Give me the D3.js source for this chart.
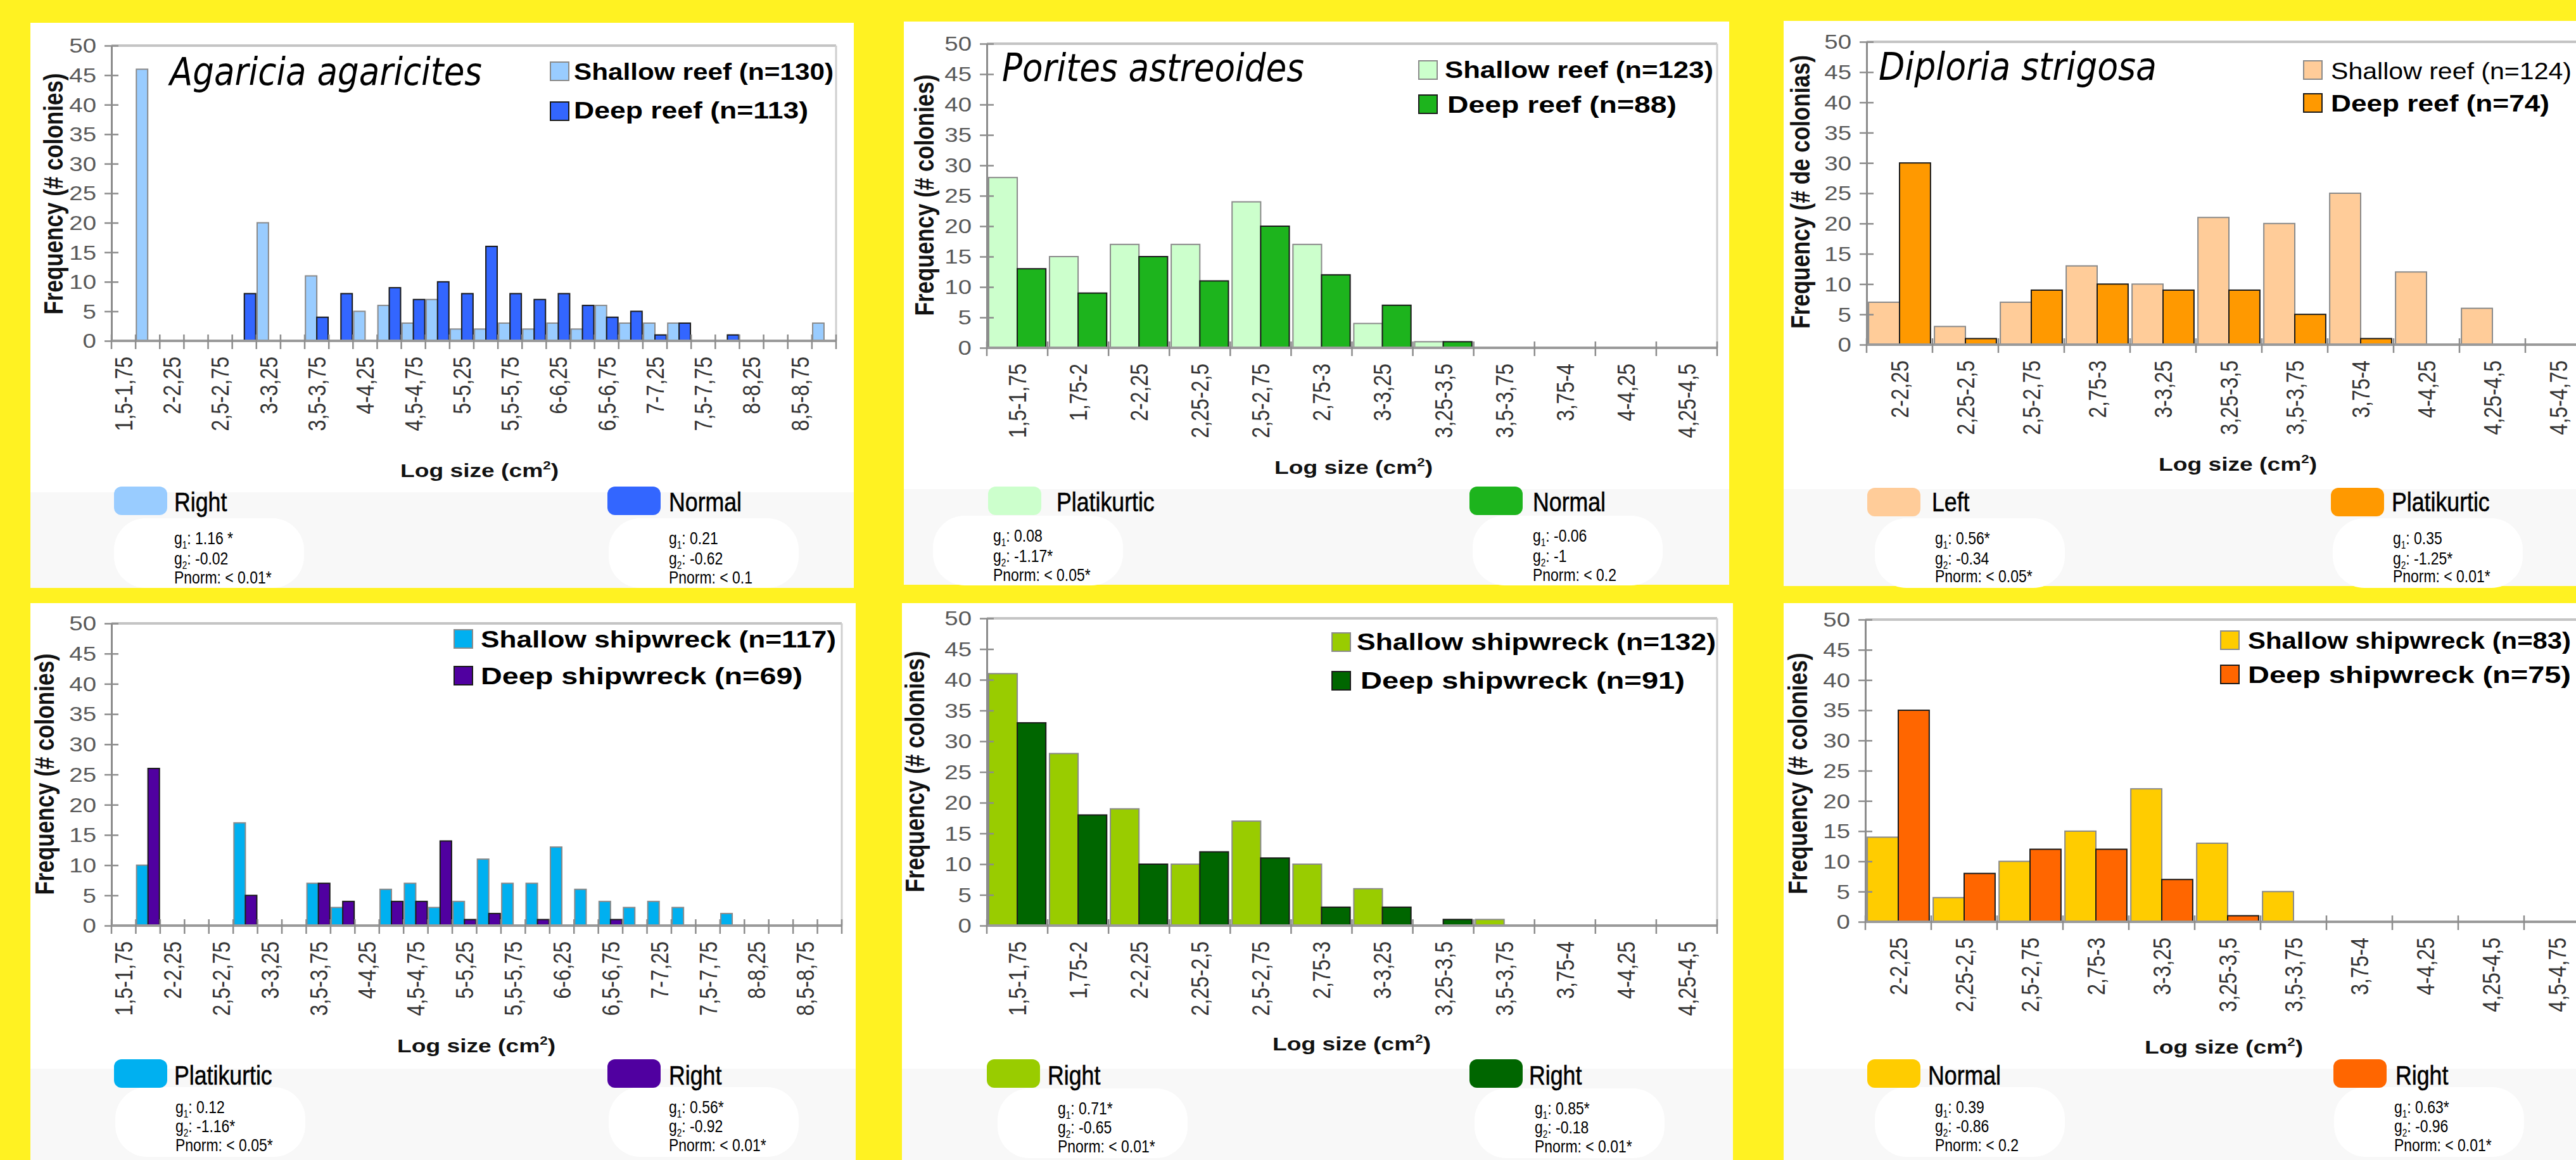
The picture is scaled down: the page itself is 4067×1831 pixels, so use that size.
<!DOCTYPE html>
<html><head><meta charset="utf-8">
<script src="https://cdn.jsdelivr.net/npm/d3@7"></script>
<style>html,body{margin:0;padding:0;background:#FFF222;overflow:hidden}</style>
</head><body><svg id="c" width="4067" height="1831"></svg>
<script>
// ---------- DATA ----------
const catsWide = ["1,5-1,75","1,75-2","2-2,25","2,25-2,5","2,5-2,75","2,75-3","3-3,25","3,25-3,5","3,5-3,75","3,75-4","4-4,25","4,25-4,5","4,5-4,75","4,75-5","5-5,25","5,25-5,5","5,5-5,75","5,75-6","6-6,25","6,25-6,5","6,5-6,75","6,75-7","7-7,25","7,25-7,5","7,5-7,75","7,75-8","8-8,25","8,25-8,5","8,5-8,75","8,75-9"];
const catsMid = ["1,5-1,75","1,75-2","2-2,25","2,25-2,5","2,5-2,75","2,75-3","3-3,25","3,25-3,5","3,5-3,75","3,75-4","4-4,25","4,25-4,5"];
const catsDip = ["2-2,25","2,25-2,5","2,5-2,75","2,75-3","3-3,25","3,25-3,5","3,5-3,75","3,75-4","4-4,25","4,25-4,5","4,5-4,75"];
const yTicks = [0,5,10,15,20,25,30,35,40,45,50];

const agariciaReefShallow = [0,46,0,0,0,0,20,0,11,0,5,6,3,7,2,2,3,2,3,2,6,3,3,3,0,0,0,0,0,3];
const agariciaReefDeep    = [0,0,0,0,0,8,0,0,4,8,0,9,7,10,8,16,8,7,8,6,4,5,1,3,0,1,0,0,0,0];
const poritesReefShallow  = [28,15,17,17,24,17,4,1,0,0,0,0];
const poritesReefDeep     = [13,9,15,11,20,12,7,1,0,0,0,0];
const diploriaReefShallow = [7,3,7,13,10,21,20,25,12,6,0];
const diploriaReefDeep    = [30,1,9,10,9,9,5,1,0,0,0];
const agariciaWreckShallow = [0,10,0,0,0,17,0,0,7,3,0,6,7,3,4,11,7,7,13,6,4,3,4,3,0,2,0,0,0,0];
const agariciaWreckDeep    = [0,26,0,0,0,5,0,0,7,4,0,4,4,14,1,2,0,1,0,0,1,0,0,0,0,0,0,0,0,0];
const poritesWreckShallow  = [41,28,19,10,17,10,6,0,1,0,0,0];
const poritesWreckDeep     = [33,18,10,12,11,3,3,1,0,0,0,0];
const diploriaWreckShallow = [14,4,10,15,22,13,5,0,0,0,0];
const diploriaWreckDeep    = [35,8,12,12,7,1,0,0,0,0,0];

const seriesNames = [
  ["Shallow reef (n=130)","Deep reef (n=113)"],
  ["Shallow reef (n=123)","Deep reef (n=88)"],
  ["Shallow  reef (n=124)","Deep reef (n=74)"],
  ["Shallow shipwreck (n=117)","Deep shipwreck (n=69)"],
  ["Shallow shipwreck (n=132)","Deep shipwreck (n=91)"],
  ["Shallow shipwreck (n=83)","Deep shipwreck (n=75)"]
];
const distShape = [["Right","Normal"],["Platikurtic","Normal"],["Left","Platikurtic"],["Platikurtic","Right"],["Right","Right"],["Normal","Right"]];
const distStats = [
  [["g1: 1.16 *","g2: -0.02","Pnorm: < 0.01*"],["g1: 0.21","g2: -0.62","Pnorm: < 0.1"]],
  [["g1: 0.08","g2: -1.17*","Pnorm: < 0.05*"],["g1: -0.06","g2: -1","Pnorm: < 0.2"]],
  [["g1: 0.56*","g2: -0.34","Pnorm: < 0.05*"],["g1: 0.35","g2: -1.25*","Pnorm: < 0.01*"]],
  [["g1: 0.12","g2: -1.16*","Pnorm: < 0.05*"],["g1: 0.56*","g2: -0.92","Pnorm: < 0.01*"]],
  [["g1: 0.71*","g2: -0.65","Pnorm: < 0.01*"],["g1: 0.85*","g2: -0.18","Pnorm: < 0.01*"]],
  [["g1: 0.39","g2: -0.86","Pnorm: < 0.2"],["g1: 0.63*","g2: -0.96","Pnorm: < 0.01*"]]
];
const speciesTitles = ["Agaricia agaricites","Porites astreoides","Diploria strigosa",null,null,null];

// ---------- LAYOUT ----------
const SX = 1.24;   // horizontal stretch of the chart texts
const NX = 0.85;   // narrow face for the added legend texts
const F = "'Liberation Sans', Arial, sans-serif";
const svg = d3.select("#c");

const panels = [
 {box:[48,36,1348,928], x0:176, catW:(1320-176)/30, y0:538, y50:72, cats:catsWide, every:2, open:false,
  sh:agariciaReefShallow, dp:agariciaReefDeep, cs:"#99CCFF", cd:"#3366FF",
  title:[268,134,493], yt:[84,306,"Frequency (# colonies)"], xt:[757,742], band:777,
  leg:[[869,98,906,113,410,true],[869,161,906,174,370,true]],
  bl:[[180,768,275,792,275,[850,882,912]],[959,768,1056,792,1056,[850,882,912]]]},
 {box:[1427,34,2730,923], x0:1558, catW:(2711-1558)/12, y0:549, y50:69, cats:catsMid, every:1, open:false,
  sh:poritesReefShallow, dp:poritesReefDeep, cs:"#CCFFCC", cd:"#1DB41D",
  title:[1582,128,477], yt:[1459,308,"Frequency (# colonies)"], xt:[2137,737], band:772,
  leg:[[2240,96,2281,110,424,true],[2240,150,2285,165,362,true]],
  bl:[[1560,768,1668,792,1568,[846,878,908]],[2320,768,2420,792,2420,[846,878,908]]]},
 {box:[2816,33,4067,925], x0:2947, catW:104, y0:544, y50:66, cats:catsDip, every:1, open:true,
  sh:diploriaReefShallow, dp:diploriaReefDeep, cs:"#FFCC99", cd:"#FF9900",
  title:[2966,126,439], yt:[2842,303,"Frequency (# de colonias)"], xt:[3533,732], band:772,
  leg:[[3637,96,3680,112,380,false],[3637,148,3680,163,345,true]],
  bl:[[2948,770,3050,792,3055,[850,882,910]],[3680,770,3776,792,3778,[850,882,910]]]},
 {box:[48,952,1351,1831], x0:176, catW:(1329-176)/30, y0:1461, y50:984, cats:catsWide, every:2, open:false,
  sh:agariciaWreckShallow, dp:agariciaWreckDeep, cs:"#00B0F0", cd:"#5000A0",
  title:null, yt:[70,1222,"Frequency (# colonies)"], xt:[752,1650], band:1687,
  leg:[[717,994,759,1009,561,true],[717,1052,759,1067,508,true]],
  bl:[[180,1672,275,1697,277,[1748,1778,1808]],[959,1672,1056,1697,1056,[1748,1778,1808]]]},
 {box:[1424,952,2736,1831], x0:1558, catW:(2711-1558)/12, y0:1461, y50:976, cats:catsMid, every:1, open:false,
  sh:poritesWreckShallow, dp:poritesWreckDeep, cs:"#99CC00", cd:"#006600",
  title:null, yt:[1444,1218,"Frequency (# colonies)"], xt:[2134,1647], band:1687,
  leg:[[2103,999,2142,1013,567,true],[2103,1060,2148,1074,512,true]],
  bl:[[1558,1672,1654,1697,1670,[1750,1780,1810]],[2320,1672,2414,1697,2423,[1750,1780,1810]]]},
 {box:[2816,952,4067,1831], x0:2945, catW:104, y0:1455, y50:978, cats:catsDip, every:1, open:true,
  sh:diploriaWreckShallow, dp:diploriaWreckDeep, cs:"#FFCC00", cd:"#FF6600",
  title:null, yt:[2838,1221,"Frequency (# colonies)"], xt:[3511,1652], band:1687,
  leg:[[3506,996,3549,1011,510,true],[3506,1050,3549,1065,510,true]],
  bl:[[2948,1672,3044,1697,3055,[1748,1778,1808]],[3684,1672,3782,1697,3780,[1748,1778,1808]]]}
];

function statLine(g, x, y, s) {
  const t = g.append("text").attr("transform", `translate(${x},${y}) scale(${NX},1)`).attr("dy","0.35em")
    .attr("font-family", F).attr("font-size", 27).attr("fill", "#000");
  const m = s.match(/^g([12])(.*)$/);
  if (m) {
    t.append("tspan").text("g");
    t.append("tspan").attr("font-size", 16).attr("dy", 7).text(m[1]);
    t.append("tspan").attr("dy", -7).text(m[2]);
  } else t.text(s);
}

panels.forEach((p, pi) => {
  const g = svg.append("g");
  const [bx0, by0, bx1, by1] = p.box;
  g.append("rect").attr("x", bx0).attr("y", by0).attr("width", bx1 - bx0).attr("height", by1 - by0).attr("fill", "#fff");
  g.append("rect").attr("x", bx0).attr("y", p.band).attr("width", bx1 - bx0).attr("height", by1 - p.band).attr("fill", "#f8f8f8");

  const n = p.cats.length;
  const x = d3.scaleBand().domain(p.cats).range([p.x0, p.x0 + p.catW * n]).paddingInner(0.06).paddingOuter(0.03);
  const sub = d3.scaleBand().domain(["s","d"]).range([0, x.bandwidth()]);
  const y = d3.scaleLinear().domain([0, 50]).range([p.y0, p.y50]);
  // open panels continue past the picture edge
  const xEnd = p.open ? 4067 : x.range()[1];

  // plot-area border (top, right)
  g.append("line").attr("x1", p.x0).attr("x2", xEnd).attr("y1", y(50)).attr("y2", y(50)).attr("stroke", "#c4c4c4").attr("stroke-width", 4);
  if (!p.open) g.append("line").attr("x1", xEnd).attr("x2", xEnd).attr("y1", y(50)).attr("y2", y(0)).attr("stroke", "#cfcfcf").attr("stroke-width", 3);

  // bars
  const rows = p.cats.map((c, i) => ({c, s: p.sh[i], d: p.dp[i]}));
  ["s","d"].forEach(k => {
    g.selectAll(null).data(rows.filter(r => r[k] > 0)).join("rect")
      .attr("x", r => x(r.c) + sub(k)).attr("width", sub.bandwidth())
      .attr("y", r => y(r[k])).attr("height", r => y(0) - y(r[k]))
      .attr("fill", k === "s" ? p.cs : p.cd)
      .attr("stroke", k === "s" ? "#8a8a8a" : "#1a1a1a").attr("stroke-width", 2);
  });

  // y axis
  const ya = g.append("g").attr("transform", `translate(${p.x0},0)`)
    .call(d3.axisLeft(y).tickValues(yTicks).tickSizeInner(11).tickSizeOuter(0));
  ya.select(".domain").attr("stroke", "#8c8c8c").attr("stroke-width", 3);
  ya.selectAll(".tick line").attr("x1", 11).attr("x2", -11).attr("stroke", "#8c8c8c").attr("stroke-width", 2.5);
  ya.selectAll(".tick text").attr("x", 0).attr("dy", "0.35em").attr("text-anchor", "end")
    .attr("transform", `translate(-24,0) scale(${SX},1)`)
    .attr("font-family", F).attr("font-size", 31).attr("fill", "#595959");

  // x axis
  const xa = g.append("g").attr("transform", `translate(0,${y(0)})`)
    .call(d3.axisBottom(x).tickSize(0).tickFormat((d, i) => (i % p.every === 0) ? d : ""));
  xa.select(".domain").remove();
  xa.selectAll(".tick text").attr("x", 0).attr("y", 0).attr("dy", "0.35em").attr("text-anchor", "end")
    .attr("transform", `translate(0,25) scale(${SX},1) rotate(-90)`)
    .attr("font-family", F).attr("font-size", 32).attr("fill", "#333");
  g.append("line").attr("x1", p.x0).attr("x2", xEnd).attr("y1", y(0)).attr("y2", y(0)).attr("stroke", "#9a9a9a").attr("stroke-width", 4);
  g.selectAll(null).data(d3.range(n + 1).map(i => x.range()[0] + i * x.step())).join("line")
    .attr("x1", d => d).attr("x2", d => d).attr("y1", y(0) - 10).attr("y2", y(0) + 13)
    .attr("stroke", "#8c8c8c").attr("stroke-width", 2.5);

  // axis titles
  g.append("text").attr("transform", `translate(${p.yt[0]},${p.yt[1]}) scale(${SX},1) rotate(-90)`)
    .attr("text-anchor", "middle").attr("dy", "0.35em").attr("font-family", F).attr("font-weight", "bold")
    .attr("font-size", 35).attr("fill", "#111").text(p.yt[2]);
  const xt = g.append("text").attr("transform", `translate(${p.xt[0]},${p.xt[1]}) scale(${SX},1)`)
    .attr("text-anchor", "middle").attr("dy", "0.35em").attr("font-family", F).attr("font-weight", "bold")
    .attr("font-size", 30).attr("fill", "#111");
  xt.append("tspan").text("Log size (cm");
  xt.append("tspan").attr("font-size", 18).attr("dy", -12).text("2");
  xt.append("tspan").attr("dy", 12).text(")");

  // species title
  if (speciesTitles[pi]) {
    g.append("text").attr("x", p.title[0]).attr("y", p.title[1])
      .attr("font-family", "'DejaVu Sans', Verdana, sans-serif").attr("font-style", "italic")
      .attr("font-size", 60).attr("fill", "#000")
      .attr("textLength", p.title[2]).attr("lengthAdjust", "spacingAndGlyphs").text(speciesTitles[pi]);
  }

  // in-plot legend
  p.leg.forEach((L, k) => {
    g.append("rect").attr("x", L[0]).attr("y", L[1]).attr("width", 29).attr("height", 29)
      .attr("fill", k === 0 ? p.cs : p.cd).attr("stroke", k === 0 ? "#8a8a8a" : "#1a1a1a").attr("stroke-width", 2);
    g.append("text").attr("x", L[2]).attr("y", L[3]).attr("dy", "0.35em")
      .attr("font-family", F).attr("font-weight", L[5] ? "bold" : "normal").attr("font-size", 37).attr("fill", "#000")
      .attr("textLength", L[4]).attr("lengthAdjust", "spacingAndGlyphs").text(seriesNames[pi][k]);
  });

  // bottom distribution legend
  p.bl.forEach((B, k) => {
    g.append("rect").attr("x", B[4] - 95).attr("y", B[5][0] - 32).attr("width", 300).attr("height", 110)
      .attr("rx", 50).attr("fill", "#fff");
    g.append("rect").attr("x", B[0]).attr("y", B[1]).attr("width", 84).attr("height", 45).attr("rx", 12)
      .attr("fill", k === 0 ? p.cs : p.cd);
    g.append("text").attr("transform", `translate(${B[2]},${B[3]}) scale(${NX},1)`).attr("dy", "0.35em")
      .attr("font-family", F).attr("font-size", 42).attr("fill", "#000")
      .attr("stroke", "#000").attr("stroke-width", 0.6).text(distShape[pi][k]);
    distStats[pi][k].forEach((s, j) => statLine(g, B[4], B[5][j], s));
  });
});
</script></body></html>
